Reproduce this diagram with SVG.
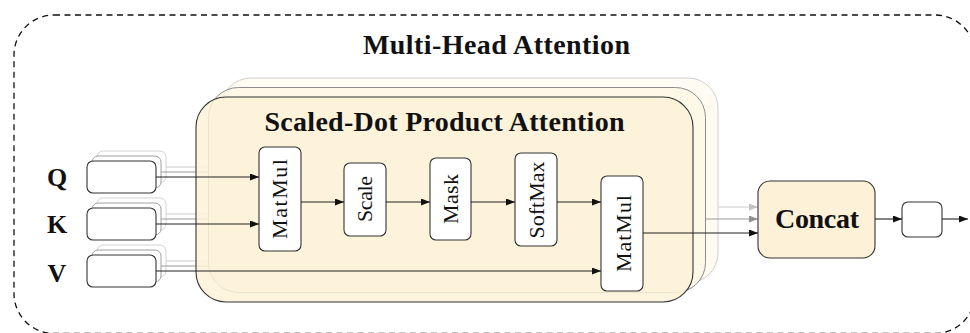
<svg xmlns="http://www.w3.org/2000/svg" width="970" height="333" viewBox="0 0 970 333">
  <style>
    .serif { font-family: "Liberation Serif", "DejaVu Serif", serif; fill: #111; }
    .title { font-size: 28px; font-weight: bold; text-anchor: middle; }
    .label { font-size: 26px; font-weight: bold; text-anchor: middle; }
    .op { font-size: 22px; text-anchor: middle; }
    .node { fill: #fff; stroke: #333; stroke-width: 1.1; }
    .att-front { fill: #fdf2d8; fill-opacity: 0.85; stroke: #333; stroke-width: 1.1; }
    .att-mid { fill: #fef7e7; fill-opacity: 0.85; stroke: #8c8c8c; stroke-width: 1; }
    .att-back { fill: #fffbf2; stroke: #cfcfcf; stroke-width: 1; }
    .in-mid { fill: #fff; stroke: #a0a0a0; stroke-width: 1; }
    .in-back { fill: #fff; stroke: #d2d2d2; stroke-width: 1; }
    .wire { fill: none; stroke: #222; stroke-width: 1.1; }
    .wire-mid { fill: none; stroke: #9a9a9a; stroke-width: 1.1; }
    .wire-back { fill: none; stroke: #cdcdcd; stroke-width: 1.1; }
  </style>
  <defs>
    <marker id="ah" viewBox="0 0 9 7" refX="9" refY="3.5" markerWidth="9" markerHeight="7" markerUnits="userSpaceOnUse" orient="auto">
      <path d="M0,0 L9,3.5 L0,7 z" fill="#111"/>
    </marker>
    <marker id="ah-mid" viewBox="0 0 9 7" refX="9" refY="3.5" markerWidth="9" markerHeight="7" markerUnits="userSpaceOnUse" orient="auto">
      <path d="M0,0 L9,3.5 L0,7 z" fill="#8f8f8f"/>
    </marker>
    <marker id="ah-back" viewBox="0 0 9 7" refX="9" refY="3.5" markerWidth="9" markerHeight="7" markerUnits="userSpaceOnUse" orient="auto">
      <path d="M0,0 L9,3.5 L0,7 z" fill="#c2c2c2"/>
    </marker>
  </defs>

  <!-- multi-head frame -->
  <g id="multi-head">
    <rect x="14" y="15" width="961" height="318.5" rx="40" fill="none" stroke="#111" stroke-width="1.3" stroke-dasharray="6 4.5"/>
    <text class="serif title" x="496.5" y="54" textLength="267">Multi-Head Attention</text>
  </g>

  <!-- third head (furthest back) -->
  <g id="head-3">
    <rect class="att-back" x="221" y="78" width="497" height="205" rx="30"/>
    <rect class="in-back" x="97" y="151" width="69" height="32" rx="6"/>
    <rect class="in-back" x="97" y="198" width="69" height="32" rx="6"/>
    <rect class="in-back" x="97" y="245" width="69" height="32" rx="6"/>
  </g>
  <g id="connectors-head-3">
    <path class="wire-back" d="M166,167 H221 M166,214 H221 M166,261 H221"/>
    <path class="wire-back" d="M718,207 H758" marker-end="url(#ah-back)"/>
  </g>

  <!-- second head -->
  <g id="head-2">
    <rect class="att-mid" x="208.5" y="87.5" width="497" height="205" rx="30"/>
    <rect class="in-mid" x="92" y="156" width="69" height="32" rx="6"/>
    <rect class="in-mid" x="92" y="203" width="69" height="32" rx="6"/>
    <rect class="in-mid" x="92" y="250" width="69" height="32" rx="6"/>
  </g>
  <g id="connectors-head-2">
    <path class="wire-mid" d="M161,172 H208.5 M161,219 H208.5 M161,266 H208.5"/>
    <path class="wire-mid" d="M705.5,219 H758" marker-end="url(#ah-mid)"/>
  </g>

  <!-- front head: scaled-dot product attention -->
  <g id="attention">
    <rect class="att-front" x="196" y="97" width="497" height="205" rx="30"/>
    <text class="serif title" x="444.5" y="131" textLength="360">Scaled-Dot Product Attention</text>
  </g>

  <g id="input-q">
    <rect class="node" x="87" y="161" width="69" height="32" rx="6"/>
    <text class="serif label" x="57" y="185.5">Q</text>
  </g>
  <g id="input-k">
    <rect class="node" x="87" y="208" width="69" height="32" rx="6"/>
    <text class="serif label" x="57" y="233.3">K</text>
  </g>
  <g id="input-v">
    <rect class="node" x="87" y="255" width="69" height="32" rx="6"/>
    <text class="serif label" x="57" y="281.5">V</text>
  </g>

  <g id="matmul-1">
    <rect class="node" x="259" y="147" width="42" height="104" rx="6"/>
    <text class="serif op" transform="translate(287,199) rotate(-90)" textLength="80">MatMul</text>
  </g>
  <g id="scale">
    <rect class="node" x="344" y="163" width="42" height="73" rx="6"/>
    <text class="serif op" transform="translate(372,199) rotate(-90)" textLength="46">Scale</text>
  </g>
  <g id="mask">
    <rect class="node" x="430" y="158" width="41" height="82" rx="6"/>
    <text class="serif op" transform="translate(458,199) rotate(-90)" textLength="50">Mask</text>
  </g>
  <g id="softmax">
    <rect class="node" x="515" y="153" width="42" height="93" rx="6"/>
    <text class="serif op" transform="translate(544,200) rotate(-90)" textLength="77">SoftMax</text>
  </g>
  <g id="matmul-2">
    <rect class="node" x="601" y="176" width="42" height="115" rx="6"/>
    <text class="serif op" transform="translate(631,233.5) rotate(-90)" textLength="77">MatMul</text>
  </g>

  <g id="concat">
    <rect x="758" y="181" width="117" height="77" rx="12" fill="#fdf2d8" stroke="#333" stroke-width="1.1"/>
    <text class="serif title" x="817" y="228" font-size="27" textLength="84">Concat</text>
  </g>
  <g id="output">
    <rect class="node" x="902" y="202" width="40" height="35" rx="6"/>
  </g>

  <g id="connectors">
    <path class="wire" d="M156,177 H259" marker-end="url(#ah)"/>
    <path class="wire" d="M156,224 H259" marker-end="url(#ah)"/>
    <path class="wire" d="M156,271 H601" marker-end="url(#ah)"/>
    <path class="wire" d="M301,202 H344" marker-end="url(#ah)"/>
    <path class="wire" d="M386,202 H430" marker-end="url(#ah)"/>
    <path class="wire" d="M471,202 H515" marker-end="url(#ah)"/>
    <path class="wire" d="M557,202 H601" marker-end="url(#ah)"/>
    <path class="wire" d="M643,233 H758" marker-end="url(#ah)"/>
    <path class="wire" d="M875,219 H902" marker-end="url(#ah)"/>
    <path class="wire" d="M942,219 H968" marker-end="url(#ah)"/>
  </g>
</svg>
